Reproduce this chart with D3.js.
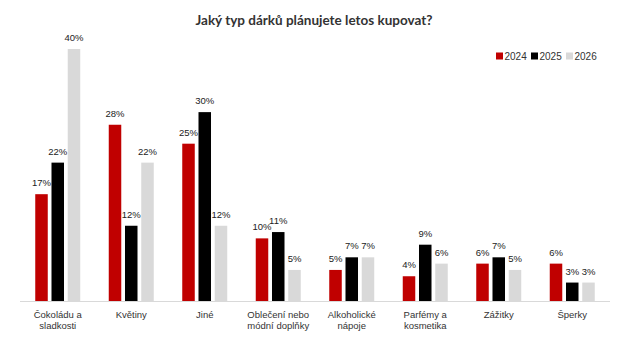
<!DOCTYPE html>
<html>
<head>
<meta charset="utf-8">
<script src="https://cdn.jsdelivr.net/npm/d3@7"></script>
<style>
  body { margin: 0; background: #fff; }
  svg text { font-family: "Liberation Sans", Arial, sans-serif; }
</style>
</head>
<body>
<svg id="chart"></svg>
<script>
'use strict';

const categories = [
    ['Čokoládu a', 'sladkosti'],
    ['Květiny'],
    ['Jiné'],
    ['Oblečení nebo', 'módní doplňky'],
    ['Alkoholické', 'nápoje'],
    ['Parfémy a', 'kosmetika'],
    ['Zážitky'],
    ['Šperky']
];
const series = ['2024', '2025', '2026'];
const values2024 = [17, 28, 25, 10, 5, 4, 6, 6];
const values2025 = [22, 12, 30, 11, 7, 9, 7, 3];
const values2026 = [40, 22, 12, 5, 7, 6, 5, 3];
const colors = ['#c00000', '#000000', '#d9d9d9'];

const W = 629, H = 354;
const svg = d3.select('#chart').attr('width', W).attr('height', H);

const valuesBySeries = [values2024, values2025, values2026];
const rows = categories.map(function(c, i) {
    return { idx: i, cat: c, vals: valuesBySeries.map(function(s) { return s[i]; }) };
});

const x0 = d3.scaleBand()
    .domain(d3.range(categories.length))
    .range([21, 609])
    .padding(0);

const x1 = d3.scaleBand()
    .domain(series)
    .range([-22.5, 22.5])
    .paddingInner(0.23);

const y = d3.scaleLinear()
    .domain([0, 40])
    .range([301.5, 49]);

// title
svg.append('text')
    .attr('x', 314)
    .attr('y', 25)
    .attr('text-anchor', 'middle')
    .style('font-family', 'Lato, sans-serif')
    .style('font-weight', 'bold')
    .style('font-size', '13.5px')
    .style('fill', '#333')
    .text('Jaký typ dárků plánujete letos kupovat?');

// legend
const legendX = [496, 531, 566];
const legend = svg.append('g').selectAll('g')
    .data(series)
    .join('g')
    .attr('transform', function(d, i) { return 'translate(' + legendX[i] + ',56)'; });
legend.append('rect')
    .attr('x', 0).attr('y', -3.5)
    .attr('width', 7).attr('height', 7)
    .attr('fill', function(d, i) { return colors[i]; });
legend.append('text')
    .attr('x', 8.5).attr('y', 3.6)
    .style('font-size', '10px')
    .style('fill', '#333')
    .text(function(d) { return d; });

// bars
const groups = svg.append('g').selectAll('g')
    .data(rows)
    .join('g')
    .attr('transform', function(d) { return 'translate(' + (x0(d.idx) + x0.bandwidth() / 2) + ',0)'; });

groups.selectAll('rect')
    .data(function(d) { return d.vals.map(function(v, i) { return { s: series[i], v: v, i: i }; }); })
    .join('rect')
    .attr('x', function(d) { return x1(d.s); })
    .attr('y', function(d) { return y(d.v); })
    .attr('width', x1.bandwidth())
    .attr('height', function(d) { return y(0) - y(d.v); })
    .attr('fill', function(d) { return colors[d.i]; });

groups.selectAll('text.val')
    .data(function(d) { return d.vals.map(function(v, i) { return { s: series[i], v: v }; }); })
    .join('text')
    .attr('class', 'val')
    .attr('x', function(d) { return x1(d.s) + x1.bandwidth() / 2; })
    .attr('y', function(d) { return y(d.v) - 8; })
    .attr('text-anchor', 'middle')
    .style('font-size', '9.5px')
    .style('fill', '#222')
    .text(function(d) { return d.v + '%'; });

// x axis
const xAxis = d3.axisBottom(x0).tickSize(0).tickFormat('');
const axisG = svg.append('g')
    .attr('transform', 'translate(0,' + y(0) + ')')
    .call(xAxis);
axisG.select('.domain').attr('stroke', '#d9d9d9').attr('stroke-width', 1.2)
    .attr('d', 'M20,0H610');

groups.append('text')
    .attr('text-anchor', 'middle')
    .style('font-size', '9.5px')
    .style('fill', '#333')
    .selectAll('tspan')
    .data(function(d) { return d.cat; })
    .join('tspan')
    .attr('x', 0)
    .attr('y', function(d, i) { return 317.5 + i * 11.5; })
    .text(function(d) { return d; });
</script>
</body>
</html>
